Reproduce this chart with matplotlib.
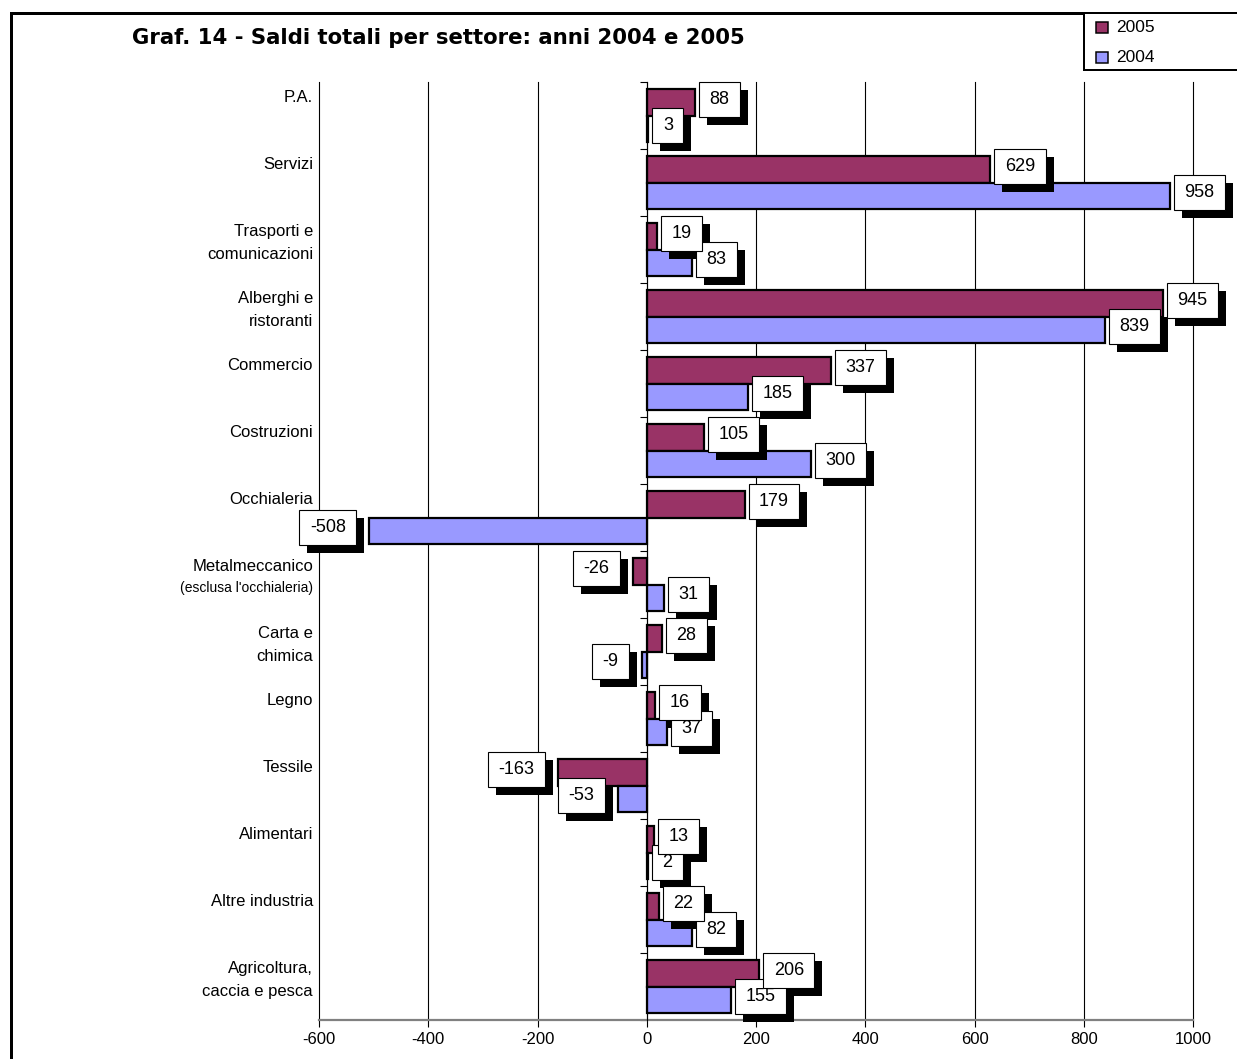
import matplotlib
matplotlib.use("Agg")
import matplotlib.pyplot as plt
from matplotlib.patches import Rectangle
from matplotlib.path import Path
from matplotlib.transforms import IdentityTransform
import numpy as np

plt.rcParams['font.family'] = ['Liberation Sans', 'DejaVu Sans']

# ---- data -------------------------------------------------------------
settori = [
    "P.A.",
    "Servizi",
    "Trasporti e\ncomunicazioni",
    "Alberghi e\nristoranti",
    "Commercio",
    "Costruzioni",
    "Occhialeria",
    "Metalmeccanico\n(esclusa l'occhialeria)",
    "Carta e\nchimica",
    "Legno",
    "Tessile",
    "Alimentari",
    "Altre industria",
    "Agricoltura,\ncaccia e pesca",
]
saldi_2005 = [88, 629, 19, 945, 337, 105, 179, -26, 28, 16, -163, 13, 22, 206]
saldi_2004 = [3, 958, 83, 839, 185, 300, -508, 31, -9, 37, -53, 2, 82, 155]
serie = ["2005", "2004"]
x_ticks = [-600, -400, -200, 0, 200, 400, 600, 800, 1000]
titolo = "Graf. 14 - Saldi totali per settore: anni 2004 e 2005"

col_2005 = "#993366"
col_2004 = "#9999FF"

W, H, DPI = 1237, 1059, 100
fig = plt.figure(figsize=(W / DPI, H / DPI), dpi=DPI)
px = 72.0 / DPI  # points per pixel

# plot area in pixels
L, R, T, B = 319, 1193, 82, 1020
ax = fig.add_axes([L / W, 1 - B / H, (R - L) / W, (B - T) / H])

n = len(settori)
y = np.arange(n)
bh = 0.4
bars05 = ax.barh(y - bh / 2, saldi_2005, height=bh, color=col_2005,
                 edgecolor="black", linewidth=1.6, zorder=3)
bars04 = ax.barh(y + bh / 2, saldi_2004, height=bh, color=col_2004,
                 edgecolor="black", linewidth=1.6, zorder=3)

ax.set_xlim(x_ticks[0], x_ticks[-1])
ax.set_ylim(n - 0.5, -0.5)
ax.set_xticks(x_ticks)
ax.set_xticklabels([str(v) for v in x_ticks], fontsize=12)
ax.tick_params(axis="x", direction="out", length=5, width=0.8, pad=3.6)
ax.xaxis.grid(True, color="black", linewidth=0.8, zorder=1)
ax.set_axisbelow(True)
for gl in ax.get_xgridlines():
    gl.set_clip_on(False)

# category axis sits at zero, ticks between categories
ax.set_yticks([])
ax.set_yticks(np.arange(-0.5, n, 1.0), minor=True)
ax.tick_params(axis="y", which="minor", direction="out", length=5,
               width=0.8, labelleft=False)
ax.spines["left"].set_position(("data", 0))
ax.spines["left"].set_linewidth(0.8)
ax.spines["left"].set_zorder(4)
ax.spines["bottom"].set_color("#808080")
ax.spines["bottom"].set_linewidth(1.6)
ax.spines["top"].set_visible(False)
ax.spines["right"].set_visible(False)

# category labels, right aligned left of the plot area
ytr = ax.get_yaxis_transform()
unit = (B - T) / n  # pixels per category
for i, lab in enumerate(settori):
    base = i - 0.5 + 19.5 / unit
    for k, line in enumerate(lab.split("\n")):
        small = line.startswith("(")
        ax.text(-6 / (R - L), base + k * (21 if small else 23) / unit, line,
                transform=ytr, ha="right", va="baseline",
                fontsize=10 if small else 12, clip_on=False)

# value labels: white boxes with a black drop shadow
LFS = 13
PADX, PADY = 0.58, 0.5
SHADOW = 8  # pixels


def label_box(x0, y0, width, height, mutation_size):
    padx = PADX * mutation_size
    pady = PADY * mutation_size
    x0, y0 = x0 - padx, y0 - pady
    x1, y1 = x0 + width + 2 * padx, y0 + height + 2 * pady
    return Path([(x0, y0), (x1, y0), (x1, y1), (x0, y1), (x0, y0)],
                closed=True)


labels = []


def put_labels(vals, offset, z):
    fs_px = LFS / px
    for i, v in enumerate(vals):
        if v >= 0:
            dx, ha = 4 + PADX * fs_px, "left"
        else:
            dx, ha = -(13 + PADX * fs_px), "right"
        t = ax.annotate(str(v), xy=(v, i + offset), xytext=(dx * px, 3 * px),
                        textcoords="offset points", ha=ha, va="center",
                        fontsize=LFS, zorder=z, annotation_clip=False,
                        bbox=dict(boxstyle=label_box, fc="white",
                                  ec="black", lw=0.8))
        labels.append(t)


put_labels(saldi_2004, bh / 2, 6)
put_labels(saldi_2005, -bh / 2, 7)

# shadows go under every label box
fig.canvas.draw()
renderer = fig.canvas.get_renderer()
for t in labels:
    bb = t.get_bbox_patch().get_window_extent(renderer)
    ax.add_patch(Rectangle((bb.x0 + SHADOW, bb.y0 - SHADOW), bb.width,
                           bb.height, transform=IdentityTransform(),
                           fc="black", ec="none", zorder=5, clip_on=False))

# title
fig.text(132 / W, 1 - 44 / H, titolo, fontsize=15.3, fontweight="bold",
         family="DejaVu Sans", ha="left", va="baseline")

# outer frame
fig.add_artist(Rectangle((10.5 / W, -0.05), 1.2, 1.05 - 13 / H,
                         transform=fig.transFigure, fill=False,
                         ec="black", lw=3 * px, zorder=0))

# legend box
lx0, ly0, ly1 = 1084, 13, 70
fig.add_artist(Rectangle((lx0 / W, 1 - ly1 / H), 0.2, (ly1 - ly0) / H,
                         transform=fig.transFigure, fc="white",
                         ec="black", lw=2 * px, zorder=5))
for name, col, cy in zip(serie, [col_2005, col_2004], [27.5, 57.5]):
    fig.add_artist(Rectangle((1096 / W, 1 - (cy + 5.5) / H), 12 / W, 11 / H,
                             transform=fig.transFigure, fc=col,
                             ec="black", lw=1.5 * px, zorder=6))
    fig.text(1116 / W, 1 - cy / H, name, fontsize=12.5, ha="left",
             va="center", zorder=6)

fig.savefig("out.png", dpi=DPI, facecolor="white")
